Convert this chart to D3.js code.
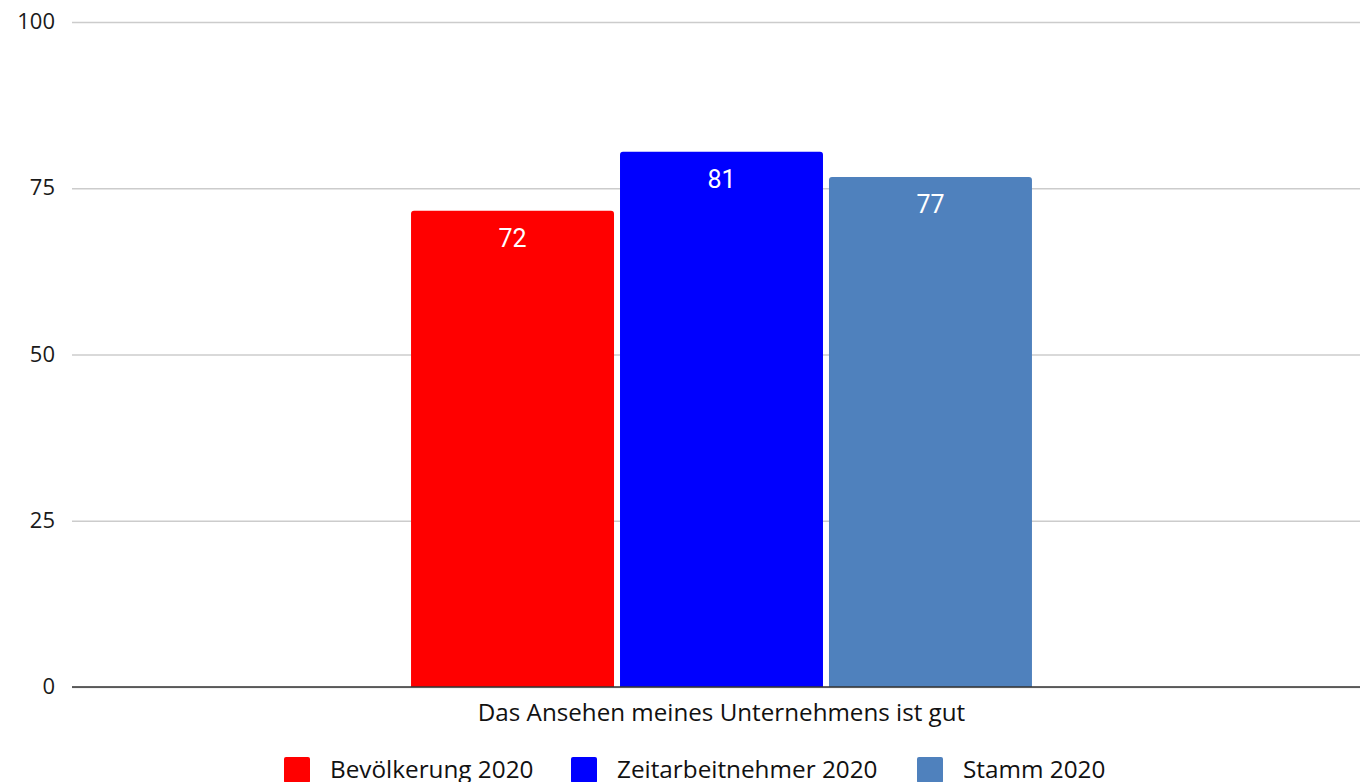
<!DOCTYPE html>
<html><head><meta charset="utf-8">
<script src="https://cdn.jsdelivr.net/npm/d3@7"></script>
<style>body{margin:0;background:#fff;} svg{display:block;}</style>
</head><body>
<svg id="chart" width="1360" height="782"></svg>
<script>
const categories = ["Das Ansehen meines Unternehmens ist gut"];
const seriesNames = ["Bevölkerung 2020", "Zeitarbeitnehmer 2020", "Stamm 2020"];
const seriesValues = [[71.6], [80.5], [76.7]];
const seriesColors = ["#ff0000", "#0000ff", "#4f81bd"];
const yTicks = [0, 25, 50, 75, 100];

const svg = d3.select("#chart");
const plotLeft = 72, plotRight = 1371, plotTop = 22, plotBottom = 687;

const y = d3.scaleLinear().domain([0, 100]).range([plotBottom, plotTop]);
const x0 = d3.scaleBand().domain(categories).range([plotLeft, plotRight]).paddingOuter(0.546).paddingInner(0);
const x1 = d3.scaleBand().domain(seriesNames).range([0, x0.bandwidth()]).paddingInner(0.0287).paddingOuter(0);

// grid
const yAxis = d3.axisLeft(y).tickValues(yTicks).tickSize(-(1360 - plotLeft)).tickPadding(17).tickFormat(d3.format("d"));
const g = svg.append("g").attr("transform", `translate(${plotLeft},0)`).call(yAxis);
g.select(".domain").remove();
g.selectAll(".tick line").attr("stroke", "#cccccc").attr("stroke-width", 1.5);
g.selectAll(".tick text").attr("font-family", "Open Sans, sans-serif").attr("font-size", 22).attr("fill", "#1a1a1a").attr("dy", "0.3em");

// bars
const radius = 3;
function barPath(x, yTop, w, h) {
  const r = Math.min(radius, h);
  return `M${x},${yTop + h}V${yTop + r}Q${x},${yTop} ${x + r},${yTop}H${x + w - r}Q${x + w},${yTop} ${x + w},${yTop + r}V${yTop + h}Z`;
}
const data = [];
categories.forEach((c, ci) => seriesNames.forEach((s, si) => data.push({c, s, v: seriesValues[si][ci], color: seriesColors[si]})));

svg.append("g").selectAll("path").data(data).join("path")
  .attr("d", d => barPath(x0(d.c) + x1(d.s), y(d.v), x1.bandwidth(), y(0) - y(d.v)))
  .attr("fill", d => d.color);

svg.append("g").selectAll("text").data(data).join("text")
  .attr("x", d => x0(d.c) + x1(d.s) + x1.bandwidth() / 2)
  .attr("y", d => y(d.v) + 36)
  .attr("text-anchor", "middle")
  .attr("font-family", "Roboto, sans-serif").attr("font-size", 25).attr("fill", "#fff")
  .text(d => Math.round(d.v));

// baseline
svg.append("line").attr("x1", plotLeft).attr("x2", 1360).attr("y1", y(0)).attr("y2", y(0))
  .attr("stroke", "#333").attr("stroke-width", 1.5);

// category label
svg.append("g").selectAll("text").data(categories).join("text")
  .attr("x", d => x0(d) + x0.bandwidth() / 2).attr("y", 721)
  .attr("text-anchor", "middle").attr("font-family", "Open Sans, sans-serif").attr("font-size", 24.2).attr("fill", "#111")
  .text(d => d);

// legend
const legendX = [284, 571, 917];
const lg = svg.append("g").selectAll("g").data(seriesNames).join("g")
  .attr("transform", (d, i) => `translate(${legendX[i]},757)`);
lg.append("rect").attr("width", 26).attr("height", 26).attr("rx", 2).attr("fill", (d, i) => seriesColors[i]);
lg.append("text").attr("x", 46).attr("y", 21).attr("font-family", "Open Sans, sans-serif").attr("font-size", 24.3).attr("fill", "#111").text(d => d);
</script>
</body></html>
